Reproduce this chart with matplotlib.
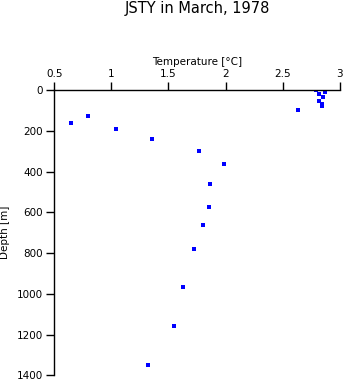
import matplotlib
matplotlib.use("Agg")
import matplotlib.pyplot as plt

temperature = [2.792, 2.822, 2.871, 2.857, 2.818, 2.842, 2.845, 2.635,
               0.649, 0.797, 1.040, 1.357, 1.768, 1.987, 1.865, 1.856,
               1.804, 1.725, 1.629, 1.550, 1.317]
depth = [0, 20, 7, 33, 51, 67, 79, 98,
         162, 128, 192, 241, 298, 361, 459, 575,
         663, 781, 966, 1159, 1349]
xticks = [0.5, 1, 1.5, 2, 2.5, 3]
yticks = [0, 200, 400, 600, 800, 1000, 1200, 1400]

plt.rcParams['font.family'] = ['DejaVu Sans']
fig = plt.figure(figsize=(3.45, 3.84), dpi=100)
ax = fig.add_axes([54.3/345, 1-375.3/384, (339.7-54.3)/345, (375.3-90.3)/384])
ax.scatter(temperature, depth, marker='s', s=5.5, color='#0000ff', linewidths=0)
ax.set_xlim(0.5, 3)
ax.set_ylim(1400, 0)
ax.set_xticks(xticks)
ax.set_xticklabels(['0.5', '1', '1.5', '2', '2.5', '3'])
ax.set_yticks(yticks)
ax.xaxis.tick_top()
ax.xaxis.set_label_position('top')
for s in ['right', 'bottom']:
    ax.spines[s].set_visible(False)
for s in ['top', 'left']:
    ax.spines[s].set_linewidth(1.0)
ax.tick_params(direction='out', length=6, width=1.0, labelsize=7.5, pad=2)
ax.set_xlabel('Temperature [°C]', fontsize=7.5, labelpad=3)
ax.set_ylabel('Depth [m]', fontsize=7.5, labelpad=5)
fig.text(197/345, 1-9/384, 'JSTY in March, 1978', ha='center', va='center', fontsize=10.5)
fig.savefig('out.png', dpi=100)
